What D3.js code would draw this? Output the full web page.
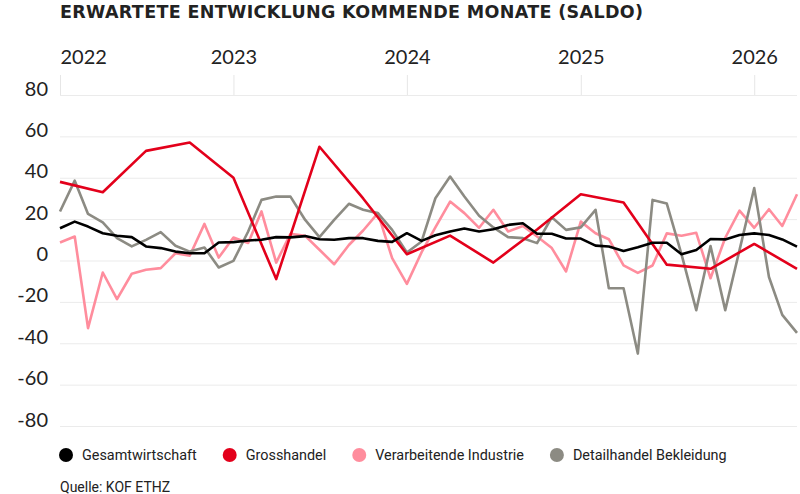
<!DOCTYPE html>
<html>
<head>
<meta charset="utf-8">
<script src="https://cdn.jsdelivr.net/npm/d3@7"></script>
<style>
  body { margin: 0; background: #fff; }
  svg { display: block; }
</style>
</head>
<body>
<svg id="chart"></svg>
<script>
var width = 800;
var height = 494;

var title = "ERWARTETE ENTWICKLUNG KOMMENDE MONATE (SALDO)";
var source = "Quelle: KOF ETHZ";

// monthly from Jan 2022 to Apr 2026
var startMonth = new Date(2022, 0, 1);
var monthCount = 52;

var seriesNames = ["Gesamtwirtschaft", "Grosshandel", "Verarbeitende Industrie", "Detailhandel Bekleidung"];
var seriesColors = ["#000000", "#e3001b", "#ff8d9d", "#8c8b83"];

var gesamt = [15.6, 18.8, 16.4, 13.2, 12, 11.3, 6.8, 6, 4.3, 3.5, 3.5, 8.7,
              8.9, 9.7, 10, 11.3, 11.2, 11.8, 10.3, 10, 10.8, 10.8, 9.5, 9,
              13.2, 9.5, 12.2, 14, 15.5, 14, 15.1, 17.2, 18, 12.9, 12.9, 10.6,
              10.6, 7.2, 6.8, 4.6, 6.4, 8.6, 8.6, 3, 5.1, 10.4, 10.2, 12.3,
              13.1, 12.3, 10.2, 6.7];

// quarterly (Jan, Apr, Jul, Oct)
var grosshandel = [38, 33, 53, 57, 40, -9, 55, 30, 3, 12, -1, 15, 32, 28, -2, -4, 8, -4];

var industrie = [8.7, 11.6, -32.7, -5.8, -18.7, -6.4, -4.5, -3.7, 3.5, 2.3, 17.7, 1.4,
                 11.1, 8.5, 23.7, -1, 12.9, 11.9, 5.2, -1.8, 7.5, 14.5, 22.9, 1.1,
                 -11.3, 4, 16, 28.5, 22.9, 15.8, 24.5, 14, 16.7, 11.6, 6, -5.3,
                 18.8, 13.2, 10.3, -2.4, -6, -2.4, 13.1, 12, 13.4, -8.6, 11, 24.1,
                 15.8, 24.8, 16.7, 32];

var bekleidung = [23.7, 38.6, 22.5, 18.4, 10.8, 6.8, 10, 13.7, 7.1, 4.3, 6.3, -3.4,
                  -0.2, 14, 29.3, 30.9, 30.9, 19.6, 11.3, 19.6, 27.4, 24.5, 22.9, 14.8,
                  3.9, 9.2, 30.1, 40.6, 30.9, 21.6, 16, 11.3, 10.8, 8.4, 20.9, 14.8,
                  16, 24.5, -13.4, -13.4, -45, 29.3, 27.5, 3, -24, 7, -24, 5,
                  35, -8, -26.3, -35];

var yTicks = [80, 60, 40, 20, 0, -20, -40, -60, -80];

var monthly = d3.range(monthCount).map(function(i) { return d3.timeMonth.offset(startMonth, i); });
var quarterly = grosshandel.map(function(d, i) { return d3.timeMonth.offset(startMonth, i * 3); });

function pairs(dates, values)
{
  return values.map(function(v, i) { return { date: dates[i], value: v }; });
}

var series = [
  pairs(monthly, gesamt),
  pairs(quarterly, grosshandel),
  pairs(monthly, industrie),
  pairs(monthly, bekleidung)
];

var plotLeft = 60, plotRight = 797, plotTop = 95, plotBottom = 426;

var svg = d3.select("#chart")
            .attr("width", width)
            .attr("height", height);

var x = d3.scaleTime()
          .domain([startMonth, monthly[monthly.length - 1]])
          .range([plotLeft, plotRight]);

var y = d3.scaleLinear()
          .domain([-80, 80])
          .range([plotBottom, plotTop]);

var axisFont = "Lato, 'DejaVu Sans', sans-serif";

/* y axis with grid */
var yAxis = svg.append("g")
               .attr("transform", "translate(" + plotLeft + ",0)")
               .call(d3.axisLeft(y)
                       .tickValues(yTicks)
                       .tickSize(-(plotRight - plotLeft))
                       .tickPadding(12)
                       .tickFormat(function(d) { return d < 0 ? "-" + Math.abs(d) : d; }));

yAxis.select(".domain").remove();
yAxis.selectAll(".tick line")
     .attr("stroke", "#ebebeb")
     .attr("stroke-width", 1);
yAxis.selectAll(".tick text")
     .attr("dy", "0")
     .attr("fill", "#222")
     .style("font-family", axisFont)
     .style("font-size", "20px");

/* year axis on top */
var xAxis = svg.append("g")
               .attr("transform", "translate(0," + plotTop + ")")
               .call(d3.axisTop(x)
                       .ticks(d3.timeYear.every(1))
                       .tickFormat(d3.timeFormat("%Y"))
                       .tickSize(20)
                       .tickPadding(11));

xAxis.select(".domain").remove();
xAxis.selectAll(".tick line")
     .attr("stroke", "#e6e6e6")
     .attr("stroke-width", 1);
xAxis.selectAll(".tick text")
     .attr("fill", "#222")
     .style("font-family", axisFont)
     .style("font-size", "20px")
     .attr("text-anchor", function(d, i) { return i === 0 ? "start" : "middle"; });

/* lines */
var line = d3.line()
             .x(function(d) { return x(d.date); })
             .y(function(d) { return y(d.value); });

var drawOrder = [2, 3, 1, 0];
drawOrder.forEach(function(k)
{
  svg.append("path")
     .datum(series[k])
     .attr("fill", "none")
     .attr("stroke", seriesColors[k])
     .attr("stroke-width", 2.6)
     .attr("stroke-linejoin", "round")
     .attr("d", line);
});

/* title: wide bold face, sized to the reference width */
var titleText = svg.append("text")
                   .text(title)
                   .attr("x", plotLeft)
                   .attr("y", 18)
                   .attr("fill", "#222")
                   .style("font-family", "'DejaVu Sans', sans-serif")
                   .style("font-weight", "bold")
                   .style("font-size", "16px");
var tw = titleText.node().getComputedTextLength();
var titleSize = Math.min(17.5, 16 * 583 / tw);
titleText.style("font-size", titleSize + "px");
tw = titleText.node().getComputedTextLength();
if (tw < 583)
{
  titleText.style("letter-spacing", ((583 - tw) / (title.length - 1)) + "px");
}

/* legend */
var legend = svg.append("g");
var lx = plotLeft - 1;
seriesNames.forEach(function(name, i)
{
  legend.append("circle")
        .attr("cx", lx + 7)
        .attr("cy", 455)
        .attr("r", 7)
        .attr("fill", seriesColors[i]);

  var t = legend.append("text")
                .text(name)
                .attr("x", lx + 23)
                .attr("y", 460)
                .attr("fill", "#222")
                .style("font-family", "Roboto, sans-serif")
                .style("font-size", "14.4px");

  lx = lx + 23 + t.node().getComputedTextLength() + 26;
});

svg.append("text")
   .text(source)
   .attr("x", plotLeft)
   .attr("y", 492)
   .attr("fill", "#222")
   .style("font-family", "Roboto, sans-serif")
   .style("font-size", "14px");
</script>
</body>
</html>
